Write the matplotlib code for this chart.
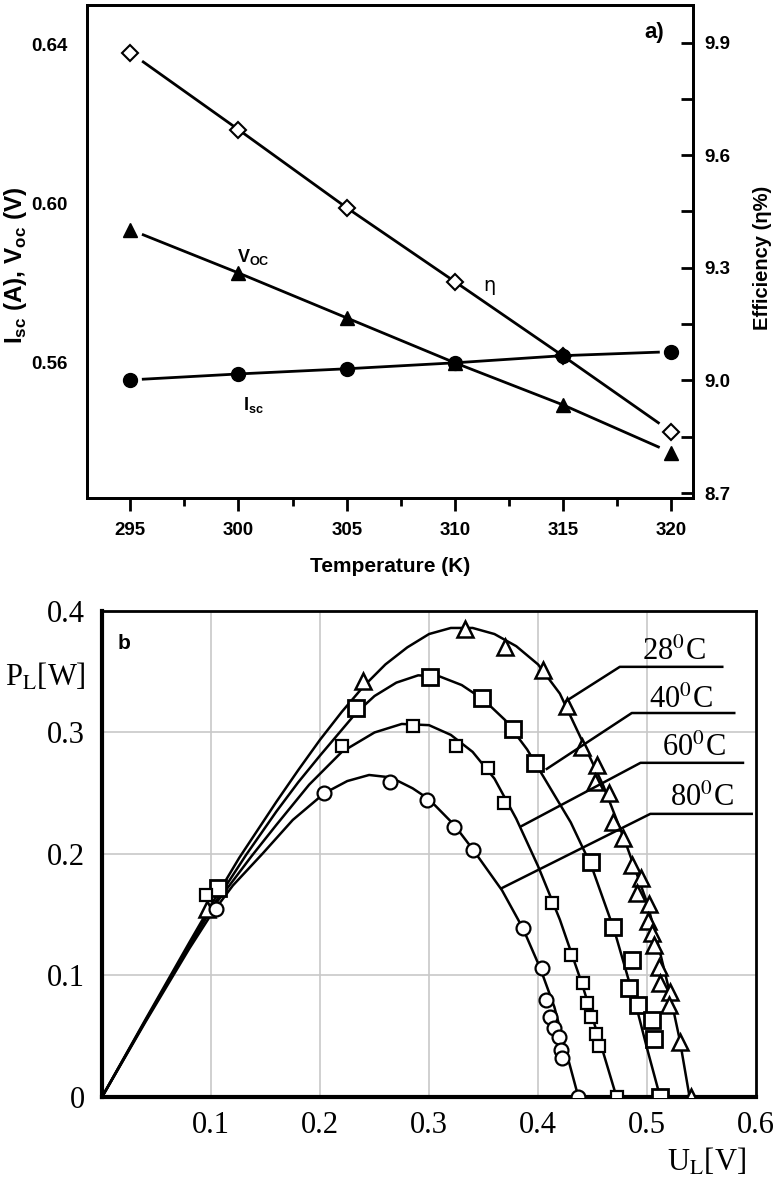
import numpy as np
import matplotlib.pyplot as plt
from matplotlib.ticker import MultipleLocator

plt.rcParams['mathtext.fontset'] = 'custom'
plt.rcParams['mathtext.rm'] = 'Liberation Sans:bold'
plt.rcParams['mathtext.bf'] = 'Liberation Sans:bold'

# ---- panel a) data ----
temp = [295, 300, 305, 310, 315, 320]
isc = [0.5557, 0.5572, 0.5585, 0.5600, 0.5618, 0.5628]
voc = [0.5935, 0.5826, 0.5713, 0.5600, 0.5494, 0.5374]
eff = [9.873, 9.668, 9.460, 9.263, 9.065, 8.863]

# ---- panel b) data: measured points ----
u28 = [0.0965, 0.239, 0.333, 0.370, 0.405, 0.427, 0.440, 0.454, 0.452, 0.465, 0.469, 0.478,
       0.486, 0.494, 0.491, 0.502, 0.501, 0.505, 0.506, 0.511, 0.512, 0.521, 0.520, 0.530, 0.540]
p28 = [0.155, 0.342, 0.385, 0.370, 0.351, 0.322, 0.288, 0.273, 0.259, 0.250, 0.226, 0.213,
       0.191, 0.180, 0.168, 0.159, 0.145, 0.135, 0.125, 0.107, 0.094, 0.086, 0.076, 0.045, 0.0]
u40 = [0.106, 0.233, 0.301, 0.349, 0.377, 0.397, 0.449, 0.469, 0.486, 0.483, 0.492, 0.505, 0.506, 0.512]
p40 = [0.172, 0.320, 0.346, 0.328, 0.303, 0.275, 0.193, 0.140, 0.113, 0.090, 0.076, 0.063, 0.048, 0.0]
u60 = [0.0955, 0.220, 0.285, 0.325, 0.354, 0.369, 0.413, 0.430, 0.441, 0.445, 0.449, 0.453, 0.456, 0.472]
p60 = [0.166, 0.289, 0.305, 0.289, 0.271, 0.242, 0.160, 0.117, 0.094, 0.077, 0.066, 0.052, 0.042, 0.0]
u80 = [0.1045, 0.204, 0.264, 0.298, 0.323, 0.340, 0.386, 0.404, 0.407, 0.411, 0.415, 0.419, 0.421, 0.422, 0.437]
p80 = [0.155, 0.250, 0.259, 0.244, 0.222, 0.203, 0.139, 0.106, 0.080, 0.066, 0.057, 0.049, 0.039, 0.032, 0.0]

# model curves
cu28 = [0, 0.04, 0.08, 0.10, 0.126, 0.16, 0.18, 0.20, 0.22, 0.24, 0.26, 0.28, 0.30, 0.32, 0.34, 0.36,
        0.38, 0.40, 0.42, 0.44, 0.46, 0.48, 0.50, 0.51, 0.52, 0.53, 0.539]
cp28 = [0, 0.064, 0.127, 0.158, 0.197, 0.243, 0.269, 0.294, 0.317, 0.338, 0.356, 0.370, 0.381, 0.386, 0.386, 0.381,
        0.371, 0.356, 0.332, 0.294, 0.256, 0.210, 0.160, 0.126, 0.089, 0.047, 0]
cu40 = [0, 0.04, 0.08, 0.10, 0.132, 0.16, 0.18, 0.20, 0.233, 0.25, 0.27, 0.29, 0.31, 0.33, 0.35, 0.37,
        0.39, 0.41, 0.43, 0.449, 0.47, 0.49, 0.50, 0.512]
cp40 = [0, 0.063, 0.125, 0.155, 0.199, 0.235, 0.259, 0.281, 0.316, 0.330, 0.341, 0.347, 0.346, 0.339, 0.327, 0.310,
        0.286, 0.256, 0.226, 0.190, 0.137, 0.075, 0.040, 0]
cu60 = [0, 0.04, 0.08, 0.10, 0.137, 0.16, 0.19, 0.22, 0.25, 0.275, 0.30, 0.32, 0.34, 0.36, 0.38,
        0.40, 0.42, 0.44, 0.46, 0.472]
cp60 = [0, 0.063, 0.124, 0.154, 0.198, 0.224, 0.257, 0.284, 0.300, 0.307, 0.306, 0.298, 0.284, 0.262, 0.229,
        0.190, 0.146, 0.094, 0.036, 0]
cu80 = [0, 0.04, 0.08, 0.10, 0.12, 0.147, 0.175, 0.204, 0.225, 0.245, 0.265, 0.285, 0.30, 0.323, 0.34,
        0.367, 0.386, 0.402, 0.415, 0.425, 0.437]
cp80 = [0, 0.062, 0.122, 0.150, 0.174, 0.200, 0.228, 0.250, 0.260, 0.265, 0.263, 0.254, 0.245, 0.224, 0.204,
        0.170, 0.139, 0.106, 0.074, 0.040, 0]

labels = ['28$^{0}$C', '40$^{0}$C', '60$^{0}$C', '80$^{0}$C']
# label text position, underline start/end x, underline y, curve point the leader goes to
lab_pos = [(0.525, 0.366, 0.475, 0.569, 0.354, 0.426, 0.326),
           (0.531, 0.326, 0.486, 0.580, 0.316, 0.408, 0.270),
           (0.543, 0.287, 0.494, 0.588, 0.275, 0.385, 0.223),
           (0.550, 0.246, 0.503, 0.596, 0.233, 0.367, 0.172)]

fig = plt.figure(figsize=(7.8, 11.84), dpi=100)

# ================= panel a =================
ax1 = fig.add_axes([0.1115, 0.5794, 0.777, 0.4164])
ax2 = ax1.twinx()
ax1.set_zorder(ax2.get_zorder() + 1)
ax1.patch.set_visible(False)
sans = 'Liberation Sans'

def trimmed(ys):
    xl = [295.6] + temp[1:-1] + [319.4]
    return xl, np.interp(xl, temp, ys)

xl, yl = trimmed(eff)
ax2.plot(xl, yl, 'k-', lw=2)
ax2.plot(temp, eff, 'D', mfc='white', mec='k', mew=1.5, ms=8.5)
xl, yl = trimmed(voc)
ax1.plot(xl, yl, 'k-', lw=2)
ax1.plot(temp, voc, '^', color='k', ms=10)
xl, yl = trimmed(isc)
ax1.plot(xl, yl, 'k-', lw=2)
ax1.plot(temp, isc, 'o', color='k', ms=10)

ax1.set_xlim(293, 321)
ax1.set_ylim(0.526, 0.65)
ax2.set_ylim(8.687, 10.0)

ax1.set_xticks(temp)
ax1.set_xticklabels([str(t) for t in temp], fontfamily=sans, fontweight='bold', fontsize=13.5)
ax1.xaxis.set_minor_locator(MultipleLocator(2.5))
ax1.tick_params(axis='x', which='major', direction='out', length=9, width=2, pad=8)
ax1.tick_params(axis='x', which='minor', direction='out', length=6, width=2)
ax1.set_yticks([0.56, 0.60, 0.64])
ax1.set_yticklabels(['0.56', '0.60', '0.64'], fontfamily=sans, fontweight='bold', fontsize=13.5)
ax1.tick_params(axis='y', length=0, pad=14)

ax2.set_yticks([8.7, 9.0, 9.3, 9.6, 9.9])
ax2.set_yticklabels(['8.7', '9.0', '9.3', '9.6', '9.9'], fontfamily=sans, fontweight='bold', fontsize=13.5)
ax2.yaxis.set_minor_locator(MultipleLocator(0.15))
ax2.tick_params(axis='y', which='major', direction='in', length=9, width=2, pad=8)
ax2.tick_params(axis='y', which='minor', direction='in', length=9, width=2)
for ax in (ax1, ax2):
    for s in ax.spines.values():
        s.set_linewidth(2)

ax1.text(300.67, 0.5867, r'V$_{\mathbf{OC}}$', fontfamily=sans, fontweight='bold', fontsize=13,
         ha='center', va='center')
ax1.text(300.67, 0.5494, r'I$_{\mathbf{sc}}$', fontfamily=sans, fontweight='bold', fontsize=13,
         ha='center', va='center')
ax1.text(311.6, 0.5794, 'η', fontfamily='DejaVu Sans', fontsize=14, ha='center', va='center')
ax1.text(319.2, 0.643, 'a)', fontfamily=sans, fontweight='bold', fontsize=16, ha='center', va='center')

fig.text(390 / 780, 1 - 567 / 1184, 'Temperature (K)', fontfamily=sans, fontweight='bold',
         fontsize=15, ha='center', va='center')
fig.text(16 / 780, 1 - 265 / 1184, r'I$_{\mathbf{sc}}$ (A), V$_{\mathbf{oc}}$ (V)', fontfamily=sans,
         fontweight='bold', fontsize=17.5, rotation=90, ha='center', va='center')
fig.text(762 / 780, 1 - 258 / 1184, 'Efficiency (η%)', fontfamily=sans, fontweight='bold',
         fontsize=14.5, rotation=90, ha='center', va='center')

# ================= panel b =================
serif = 'Liberation Serif'
ax3 = fig.add_axes([0.1308, 0.0735, 0.8385, 0.4105])
ax3.set_xlim(0, 0.6)
ax3.set_ylim(0, 0.4)
for v in [0.1, 0.2, 0.3, 0.4, 0.5]:
    ax3.axvline(v, color='#c8c8c8', lw=1.2, zorder=0)
for v in [0.1, 0.2, 0.3]:
    ax3.axhline(v, color='#c8c8c8', lw=1.2, zorder=0)

ax3.plot(cu28, cp28, 'k-', lw=1.8)
ax3.plot(cu40, cp40, 'k-', lw=1.8)
ax3.plot(cu60, cp60, 'k-', lw=1.8)
ax3.plot(cu80, cp80, 'k-', lw=1.8)
ax3.plot(u28, p28, '^', mfc='white', mec='k', mew=1.8, ms=12, zorder=4)
ax3.plot(u40, p40, 's', mfc='white', mec='k', mew=2, ms=11, zorder=4)
ax3.plot(u60, p60, 's', mfc='white', mec='k', mew=1.6, ms=8.5, zorder=4)
ax3.plot(u80, p80, 'o', mfc='white', mec='k', mew=1.6, ms=10, zorder=4)

for lab, (tx, ty, x0, x1, yl_, cx, cy) in zip(labels, lab_pos):
    ax3.plot([cx, x0, x1], [cy, yl_, yl_], 'k-', lw=1.8, zorder=5)
    ax3.text(tx, ty, lab, fontfamily=serif, math_fontfamily='stix', fontsize=22,
             ha='center', va='center')

ax3.set_xticks([0.1, 0.2, 0.3, 0.4, 0.5, 0.6])
ax3.set_xticklabels(['0.1', '0.2', '0.3', '0.4', '0.5', '0.6'], fontfamily=serif, fontsize=22)
ax3.set_yticks([0, 0.1, 0.2, 0.3, 0.4])
ax3.set_yticklabels(['0', '0.1', '0.2', '0.3', '0.4'], fontfamily=serif, fontsize=22)
ax3.tick_params(length=0)
ax3.tick_params(axis='x', pad=10)
ax3.tick_params(axis='y', pad=12)
ax3.spines['left'].set_linewidth(3)
ax3.spines['bottom'].set_linewidth(3)
ax3.spines['top'].set_linewidth(2)
ax3.spines['right'].set_linewidth(2)

ax3.text(0.020, 0.373, 'b', fontfamily=sans, fontweight='bold', fontsize=15, ha='center', va='center')
fig.text(45 / 780, 1 - 677 / 1184, r'P$_{\rm L}$[W]', fontfamily=serif, math_fontfamily='stix',
         fontsize=22, ha='center', va='center')
fig.text(707 / 780, 1 - 1162 / 1184, r'U$_{\rm L}$[V]', fontfamily=serif, math_fontfamily='stix',
         fontsize=22, ha='center', va='center')

fig.savefig('out.png', dpi=100)
